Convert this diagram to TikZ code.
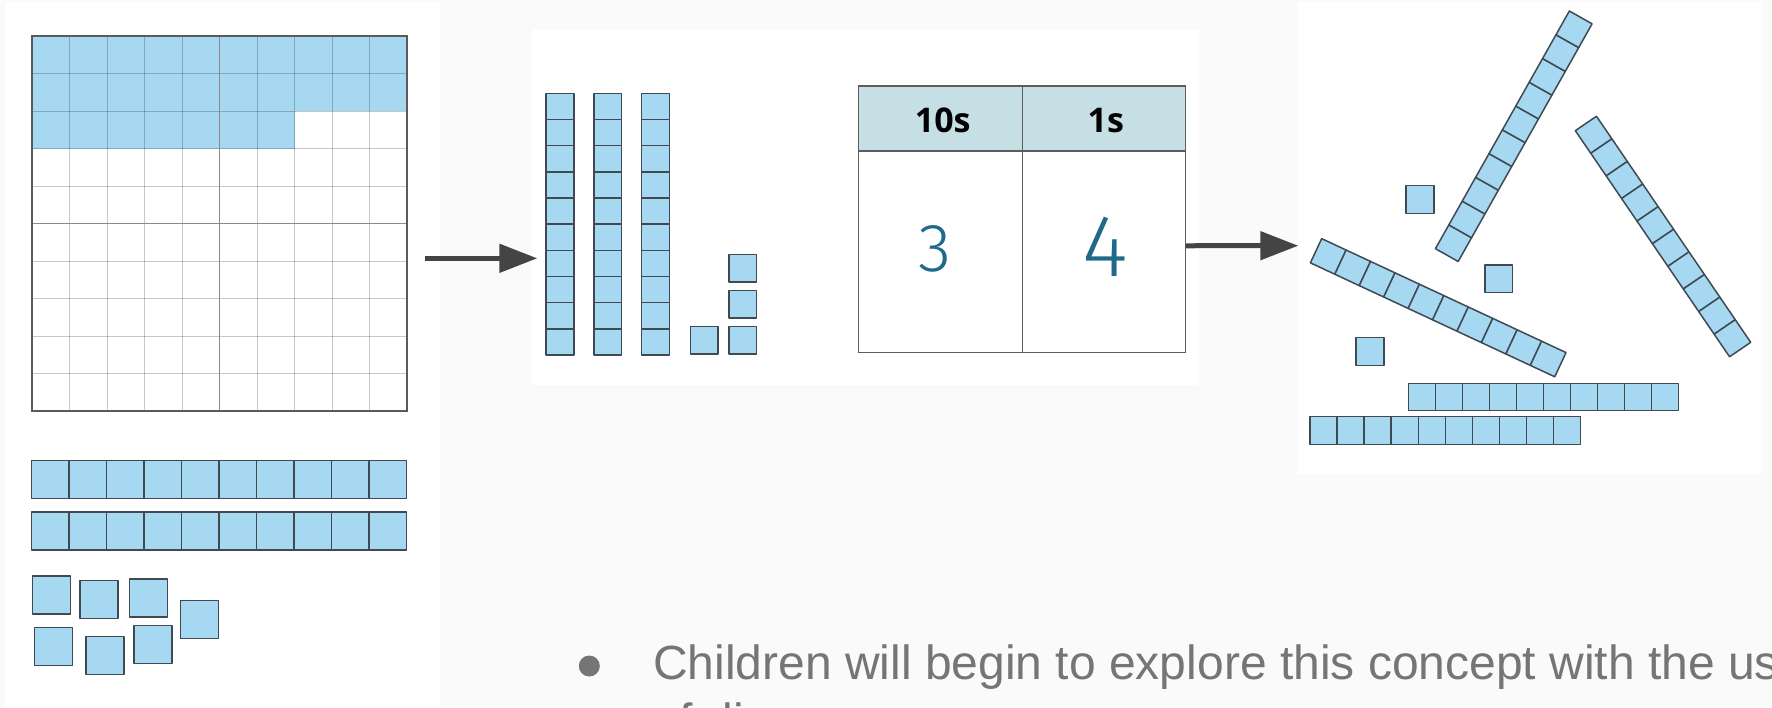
\documentclass[tikz,border=0pt]{standalone}
\usepackage{fontspec}
\setmainfont{Liberation Sans}
\newfontfamily\headfont{Open Sans}
\newfontfamily\handfont{Fira Sans Light}
\usetikzlibrary{arrows.meta}

\definecolor{pagebg}{HTML}{FAFAFA}
\definecolor{blockblue}{HTML}{A7D8F2}
\definecolor{blockline}{HTML}{3F4A52}
\definecolor{gridmid}{HTML}{8A8A8A}
\definecolor{gridedge}{HTML}{5A5A5A}
\definecolor{arrowgray}{HTML}{444444}
\definecolor{headfill}{HTML}{C5DFE5}
\definecolor{tableline}{HTML}{5C5C5C}
\definecolor{inkblue}{HTML}{1F6A8A}
\definecolor{bodygray}{HTML}{757575}

\tikzset{
  unitblock/.style={fill=blockblue, draw=blockline, line width=1.5pt, line join=round},
  gridfine/.style={draw=black, opacity=0.22, line width=0.9pt},
  conn/.style={draw=arrowgray, line width=5pt, -{Triangle[length=38pt,width=28pt]}},
  tablebox/.style={draw=tableline, line width=1.5pt, inner sep=0pt, outer sep=0pt},
  headtext/.style={font=\headfont\bfseries\fontsize{34}{34}\selectfont, text=black, inner sep=0pt},
  handtext/.style={text=inkblue, inner sep=0pt},
  bodytext/.style={font=\fontsize{48}{54}\selectfont, text=bodygray, inner sep=0pt},
}

% a ten-rod: #1,#2 centre, #3 angle, #4 cell length, #5 cell width
\newcommand\tenrod[5]{%
  \begin{scope}[shift={(#1,#2)}, rotate=#3]
    \foreach \i in {0,...,9}
      \draw[unitblock] ({(\i-5)*#4},{-#5/2}) rectangle ++(#4,#5);
  \end{scope}}
% a single unit cube: #1,#2 top-left corner, #3 size
\newcommand\unitcube[3]{\draw[unitblock] (#1,#2) rectangle ++(#3,#3);}

\begin{document}
\begin{tikzpicture}[x=1pt, y=-1pt]
  \useasboundingbox (0,0) rectangle (1772,707);
  \fill[pagebg] (0,0) rectangle (1772,707);
  \clip (0,0) rectangle (1772,707);

  % white panels
  \fill[white] (5,2) rectangle (440,707);
  \fill[white] (532,30) rectangle (1199,385);
  \fill[white] (1298,2) rectangle (1762,474);

  % hundred square with 27 shaded cells
  \fill[blockblue] (32,36) rectangle (407,111);
  \fill[blockblue] (32,111) rectangle (294.5,148.5);
  \foreach \k in {1,...,9} {
    \draw[gridfine] ({32+\k*37.5},36) -- ++(0,375);
    \draw[gridfine] (32,{36+\k*37.5}) -- ++(375,0);
  }
  \draw[gridmid, line width=1pt] (219.5,36) -- ++(0,375);
  \draw[gridmid, line width=1pt] (32,223.5) -- ++(375,0);
  \draw[gridedge, line width=1.6pt] (32,36) rectangle (407,411);

  % two tens and seven ones
  \tenrod{219.2}{479.7}{0}{37.5}{38}
  \tenrod{219.2}{531.2}{0}{37.5}{38}
  \unitcube{32.7}{576}{38}
  \unitcube{80}{580.7}{38}
  \unitcube{129.3}{579}{38}
  \unitcube{180.3}{600.7}{38}
  \unitcube{34.7}{627.7}{38}
  \unitcube{86}{636.3}{38}
  \unitcube{134}{625.3}{38}

  % three tens and four ones
  \tenrod{560}{224.2}{90}{26.17}{27.7}
  \tenrod{607.8}{224.2}{90}{26.17}{27.7}
  \tenrod{655.5}{224.2}{90}{26.17}{27.7}
  \unitcube{690.7}{326.7}{27.5}
  \unitcube{728.9}{326.7}{27.5}
  \unitcube{728.9}{290.5}{27.5}
  \unitcube{728.9}{254.3}{27.5}

  % place value table
  \fill[headfill] (858.3,86) rectangle (1185.7,151);
  \node[tablebox, minimum width=327.4pt, minimum height=266.7pt] (table) at (1022,219.35) {};
  \draw[tableline, line width=1.5pt] (858.3,151) -- (1185.7,151);
  \draw[tableline, line width=1.5pt] (1022.7,86) -- (1022.7,352.7);
  \node[headtext, anchor=base] (tens) at (942.7,132.7) {10s};
  \node[headtext, anchor=base] (ones) at (1105.8,132.7) {1s};
  \node[handtext, anchor=base, font=\handfont\fontsize{68}{68}\selectfont] (three) at (935,271.5) {3};
  \node[handtext, anchor=base, font=\handfont\fontsize{88}{88}\selectfont] (four) at (1105,276) {4};

  % scattered tens and ones
  \tenrod{1513.75}{136.25}{60.6}{27.28}{26.1}
  \tenrod{1663}{236.5}{-55.7}{27.37}{25.6}
  \tenrod{1438.2}{307.7}{-25}{26.96}{26.7}
  \tenrod{1543.3}{397}{0}{27}{27.4}
  \tenrod{1445.35}{430.5}{0}{27.07}{27.6}
  \unitcube{1406}{185.3}{28}
  \unitcube{1485}{265}{27.7}
  \unitcube{1356}{337.3}{28}

  % arrows
  \coordinate (a1s) at (425,258.3);
  \coordinate (a1e) at (537.3,258.3);
  \coordinate (a2e) at (1298.3,245.7);
  \draw[conn] (a1s) -- (a1e);
  \draw[conn] ([yshift=-26.4pt]table.east) -- (a2e);

  % bullet text, running past the lower and right edges
  \node[circle, fill=bodygray, minimum size=21pt, inner sep=0pt] (dot) at (589.3,666) {};
  \node[bodytext, anchor=base west] (line1) at (653,679.3) {Children will begin to explore this concept with the use};
  \node[bodytext, anchor=base west] (line2) at (653,737) {of dienes};
\end{tikzpicture}
\end{document}
